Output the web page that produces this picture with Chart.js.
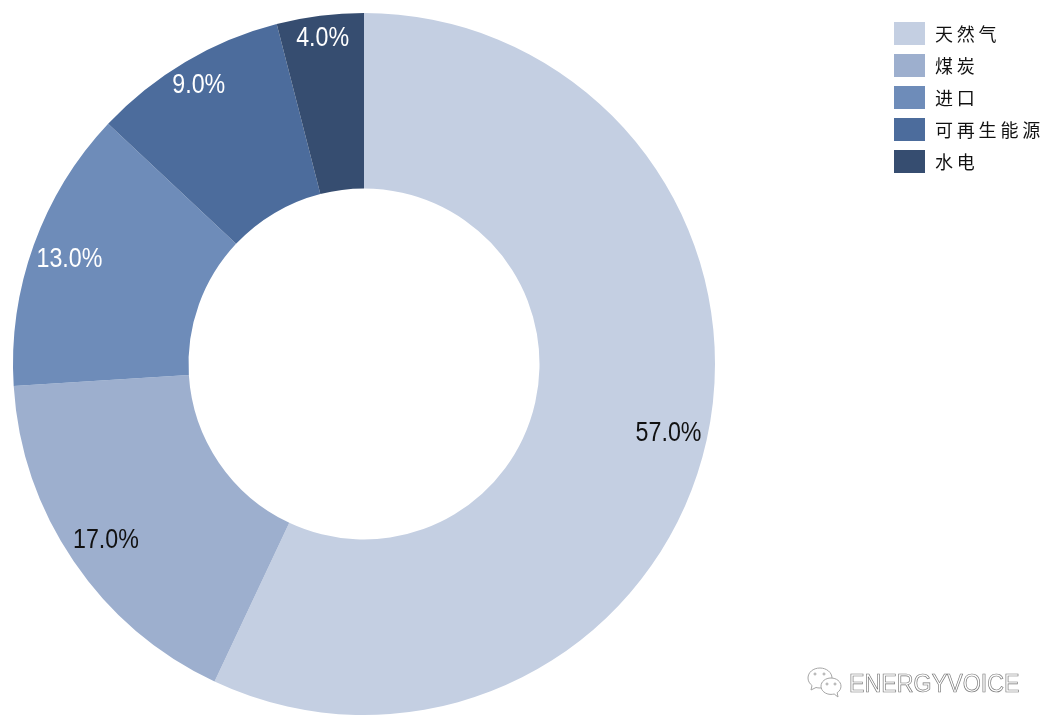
<!DOCTYPE html>
<html>
<head>
<meta charset="utf-8">
<script src="https://cdn.jsdelivr.net/npm/chart.js@4"></script>
<style>
    html, body { margin: 0; padding: 0; background: #fff; }
    #wrap { position: relative; width: 1055px; height: 728px; overflow: hidden; }
    #legend { position: absolute; left: 894px; top: 22px; }
    .item { display: flex; align-items: center; height: 23px; margin-bottom: 9px; }
    .box { width: 31px; height: 23px; margin-right: 10px; }
    .name { position: relative; top: -1px; font: 18px "Noto Sans CJK SC", sans-serif; letter-spacing: 3.8px; color: #111; white-space: nowrap; }
    #mark { position: absolute; left: 849px; top: 669px; font: 25px "Liberation Sans", sans-serif; color: #fff;
        -webkit-text-stroke: 0.7px #777; white-space: nowrap; transform: scaleX(0.93); transform-origin: left top; }
    #icon { position: absolute; left: 806px; top: 666px; }
</style>
</head>
<body>
<div id="wrap">
    <canvas id="myChart" width="1055" height="728"></canvas>
    <div id="legend"></div>
    <svg id="icon" width="38" height="34" viewBox="0 0 38 34" fill="#fff" stroke="#a5a5a5" stroke-width="1">
        <path d="M14 2C7 2 2 6.500 2 12c0 3 1.500 5.500 4 7.500L5 24l5-2.500c1.300.3 2.500.5 4 .5 6.500 0 12-4.500 12-10S20.500 2 14 2z"/>
        <path d="M25 12c-5.500 0-10 3.600-10 8.200s4.500 8.200 10 8.200c1.200 0 2.200-.2 3.200-.4L32 31l-.8-4.300c2.400-1.600 3.800-3.900 3.800-6.500 0-4.600-4.500-8.200-10-8.200z"/>
        <circle cx="9" cy="8" r="1"/><circle cx="18" cy="8" r="1"/><circle cx="21" cy="18" r="1"/><circle cx="29" cy="18" r="1"/>
    </svg>
    <div id="mark">ENERGYVOICE</div>
</div>
<script>
const categories = ['天然气', '煤炭', '进口', '可再生能源', '水电'];
const shares = [57, 17, 13, 9, 4];
const sliceColors = ['#C4CFE2', '#9DAFCE', '#6E8CB9', '#4C6C9C', '#364D70'];
const labelColors = ['#111', '#111', '#fff', '#fff', '#fff'];
// how far out each percentage sits, as part of the outer radius
const labelRadius = [0.889, 0.889, 0.892, 0.925, 0.94];

const valueLabels = {
    id: 'valueLabels',
    afterDatasetsDraw(chart) {
        const ctx = chart.ctx;
        chart.getDatasetMeta(0).data.forEach((arc, i) => {
            const mid = (arc.startAngle + arc.endAngle) / 2;
            const r = arc.outerRadius * labelRadius[i];
            ctx.save();
            // reference text is a narrow sans, so squeeze Liberation a bit
            ctx.translate(arc.x + Math.cos(mid) * r, arc.y + Math.sin(mid) * r + 1.5);
            ctx.scale(0.86, 1);
            ctx.font = '27px "Liberation Sans", sans-serif';
            ctx.textAlign = 'center';
            ctx.textBaseline = 'middle';
            ctx.fillStyle = labelColors[i];
            ctx.fillText(shares[i].toFixed(1) + '%', 0, 0);
            ctx.restore();
        });
    }
};

new Chart(document.getElementById('myChart'), {
    type: 'doughnut',
    data: {
        labels: categories,
        datasets: [{ data: shares, backgroundColor: sliceColors, borderWidth: 0 }]
    },
    options: {
        responsive: false,
        animation: false,
        cutout: '50%',
        layout: { padding: { left: 13, right: 340, top: 13, bottom: 13 } },
        plugins: { legend: { display: false }, tooltip: { enabled: false } }
    },
    plugins: [valueLabels]
});

const legend = document.getElementById('legend');
categories.forEach((name, i) => {
    const item = document.createElement('div');
    item.className = 'item';
    item.innerHTML = '<div class="box" style="background:' + sliceColors[i] + '"></div><span class="name">' + name + '</span>';
    legend.appendChild(item);
});
</script>
</body>
</html>
